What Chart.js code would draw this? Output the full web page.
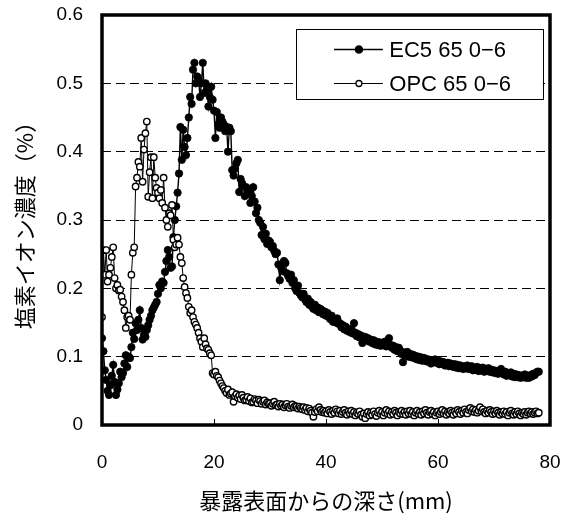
<!DOCTYPE html>
<html>
<head>
<meta charset="utf-8">
<script src="https://cdn.jsdelivr.net/npm/chart.js@4/dist/chart.umd.min.js"></script>
<style>
html,body{margin:0;padding:0;background:#fff;}
#wrap{width:571px;height:514px;position:relative;}
</style>
</head>
<body>
<div id="wrap"><canvas id="c" width="571" height="514"></canvas></div>
<script>
// ---- data (depth step 0.25 mm, 0 .. 78 mm) ----
const seriesNames = ['EC5 65 0\u22126', 'OPC 65 0\u22126'];
const xTitle = '暴露表面からの深さ(mm)';
const yTitle = '塩素イオン濃度（%）';
const xTickLabels = ['0', '20', '40', '60', '80'];
const yTickLabels = ['0', '0.1', '0.2', '0.3', '0.4', '0.5', '0.6'];
const depthStep = 0.25;

const ec5 = [
  0.127,0.108,0.080,0.066,0.050,0.044,0.058,0.072,
  0.088,0.063,0.044,0.052,0.061,0.078,0.070,0.076,
  0.090,0.102,0.085,0.100,0.098,0.114,0.135,0.126,
  0.149,0.139,0.154,0.168,0.142,0.125,0.132,0.129,
  0.139,0.146,0.154,0.160,0.168,0.172,0.176,0.180,
  0.192,0.205,0.200,0.210,0.208,0.224,0.240,0.256,
  0.246,0.230,0.232,0.275,0.300,0.320,0.340,0.368,
  0.436,0.388,0.432,0.407,0.395,0.420,0.450,0.480,
  0.470,0.520,0.530,0.500,0.510,0.505,0.480,0.500,
  0.530,0.486,0.500,0.490,0.466,0.480,0.495,0.476,
  0.460,0.420,0.458,0.440,0.435,0.450,0.444,0.440,
  0.430,0.436,0.400,0.435,0.430,0.373,0.365,0.375,
  0.383,0.388,0.341,0.360,0.354,0.350,0.335,0.348,
  0.344,0.340,0.325,0.335,0.348,0.327,0.310,0.318,
  0.300,0.296,0.278,0.290,0.272,0.280,0.265,0.270,
  0.268,0.260,0.262,0.255,0.250,0.252,0.235,0.212,
  0.230,0.225,0.240,0.237,0.222,0.218,0.214,0.220,
  0.208,0.212,0.200,0.196,0.204,0.193,0.190,0.187,
  0.192,0.184,0.180,0.185,0.176,0.180,0.173,0.170,
  0.176,0.168,0.172,0.165,0.170,0.168,0.162,0.166,
  0.160,0.164,0.158,0.155,0.160,0.151,0.154,0.150,
  0.156,0.148,0.149,0.143,0.146,0.140,0.144,0.138,
  0.141,0.136,0.139,0.134,0.149,0.135,0.130,0.133,
  0.128,0.131,0.120,0.126,0.129,0.124,0.127,0.122,
  0.125,0.120,0.124,0.118,0.122,0.117,0.121,0.116,
  0.120,0.118,0.122,0.115,0.119,0.127,0.117,0.113,
  0.116,0.110,0.114,0.108,0.113,0.109,0.104,0.092,
  0.106,0.102,0.107,0.100,0.104,0.099,0.103,0.098,
  0.101,0.096,0.100,0.095,0.099,0.094,0.098,0.097,
  0.093,0.096,0.095,0.090,0.094,0.092,0.096,0.091,
  0.094,0.089,0.093,0.090,0.092,0.087,0.088,0.091,
  0.086,0.090,0.087,0.085,0.089,0.084,0.088,0.083,
  0.087,0.085,0.082,0.086,0.083,0.087,0.082,0.083,
  0.086,0.080,0.084,0.081,0.085,0.079,0.083,0.080,
  0.084,0.078,0.082,0.079,0.083,0.078,0.081,0.077,
  0.080,0.076,0.079,0.075,0.078,0.082,0.076,0.074,
  0.078,0.072,0.076,0.073,0.077,0.071,0.075,0.070,
  0.074,0.070,0.073,0.069,0.072,0.070,0.074,0.069,
  0.072,0.069,0.073,0.071,0.075,0.073,0.076,0.078,
  0.078
];

const opc = [
  0.158,0.256,0.220,0.256,0.210,0.220,0.230,0.246,
  0.260,0.215,0.200,0.205,0.197,0.198,0.188,0.180,
  0.168,0.142,0.158,0.160,0.154,0.220,0.252,0.260,
  0.349,0.362,0.385,0.378,0.420,0.356,0.403,0.427,
  0.444,0.334,0.370,0.392,0.332,0.392,0.362,0.347,
  0.340,0.332,0.344,0.325,0.362,0.318,0.300,0.290,
  0.310,0.307,0.322,0.271,0.260,0.264,0.274,0.264,
  0.246,0.237,0.215,0.202,0.193,0.186,0.173,0.164,
  0.168,0.158,0.151,0.147,0.142,0.135,0.127,0.122,
  0.114,0.127,0.118,0.112,0.110,0.105,0.102,0.076,
  0.074,0.078,0.072,0.070,0.065,0.061,0.057,0.054,
  0.050,0.047,0.052,0.044,0.046,0.048,0.034,0.042,
  0.045,0.040,0.043,0.038,0.044,0.040,0.036,0.037,
  0.041,0.035,0.039,0.033,0.034,0.038,0.036,0.032,
  0.037,0.035,0.031,0.034,0.036,0.030,0.033,0.031,
  0.032,0.028,0.031,0.034,0.029,0.030,0.027,0.031,
  0.028,0.030,0.026,0.029,0.031,0.027,0.025,0.028,
  0.030,0.026,0.028,0.027,0.024,0.027,0.025,0.023,
  0.026,0.022,0.025,0.020,0.024,0.021,0.018,0.012,
  0.019,0.023,0.020,0.026,0.022,0.019,0.021,0.018,
  0.020,0.017,0.022,0.019,0.016,0.021,0.018,0.023,
  0.020,0.017,0.021,0.016,0.019,0.022,0.018,0.015,
  0.020,0.017,0.021,0.016,0.019,0.014,0.018,0.016,
  0.020,0.015,0.012,0.017,0.010,0.016,0.019,0.014,
  0.018,0.015,0.020,0.016,0.013,0.018,0.021,0.016,
  0.019,0.014,0.018,0.022,0.017,0.020,0.015,0.019,
  0.016,0.021,0.018,0.014,0.019,0.017,0.021,0.016,
  0.019,0.015,0.020,0.017,0.021,0.016,0.019,0.014,
  0.018,0.021,0.016,0.019,0.015,0.020,0.017,0.022,
  0.018,0.015,0.019,0.021,0.016,0.019,0.014,0.018,
  0.020,0.016,0.019,0.022,0.017,0.020,0.015,0.019,
  0.017,0.021,0.018,0.015,0.020,0.017,0.022,0.019,
  0.016,0.021,0.018,0.023,0.019,0.017,0.022,0.025,
  0.020,0.023,0.019,0.022,0.018,0.021,0.026,0.020,
  0.023,0.019,0.017,0.021,0.018,0.022,0.019,0.016,
  0.020,0.017,0.021,0.018,0.015,0.019,0.017,0.020,
  0.016,0.019,0.014,0.018,0.021,0.017,0.015,0.019,
  0.016,0.020,0.017,0.014,0.018,0.016,0.019,0.015,
  0.018,0.020,0.017,0.019,0.016,0.018,0.020,0.017,
  0.018
];

const depth = ec5.map((_, i) => i * depthStep);

// ---- styling ----
const numFont = {family: '"Liberation Sans", Arial, sans-serif', size: 19};
const legendFont = '22px "Liberation Sans", Arial, sans-serif';
const cjkFont = {family: '"Noto Sans CJK JP", sans-serif', size: 22};

const framePlugin = {
  id: 'frameAndLegend',
  afterDatasetsDraw(chart) {
    const {ctx, chartArea: a} = chart;
    const w = a.right - a.left, h = a.bottom - a.top;
    // legend box
    const bx = a.left + w * 0.433, by = a.top + h * 0.034;
    const bw = a.right - w * 0.016 - bx, bh = h * 0.171;
    ctx.save();
    ctx.fillStyle = '#fff';
    ctx.fillRect(bx, by, bw, bh);
    ctx.strokeStyle = '#000';
    ctx.lineWidth = 1;
    ctx.strokeRect(Math.round(bx) + 0.5, Math.round(by) + 0.5, Math.round(bw), Math.round(bh));
    const rows = [by + bh * 0.29, by + bh * 0.775];
    chart.data.datasets.forEach((ds, i) => {
      const y = Math.round(rows[i]) + 0.5;
      ctx.strokeStyle = '#000';
      ctx.lineWidth = i === 0 ? 1.6 : 1.1;
      ctx.beginPath();
      ctx.moveTo(bx + bw * 0.154, y);
      ctx.lineTo(bx + bw * 0.352, y);
      ctx.stroke();
      ctx.beginPath();
      ctx.arc(bx + bw * 0.255, y, i === 0 ? 3.6 : 3.0, 0, Math.PI * 2);
      ctx.fillStyle = ds.pointBackgroundColor;
      ctx.fill();
      ctx.lineWidth = 1.3;
      ctx.stroke();
      ctx.fillStyle = '#000';
      ctx.font = legendFont;
      ctx.textAlign = 'left';
      ctx.textBaseline = 'middle';
      ctx.fillText(ds.label, bx + bw * 0.378, y + 1);
    });
    // thick plot frame
    ctx.strokeStyle = '#000';
    ctx.lineWidth = 3.5;
    ctx.strokeRect(a.left, a.top, w, h);
    ctx.restore();
  }
};

new Chart(document.getElementById('c'), {
  type: 'line',
  data: {
    datasets: [
      {
        label: seriesNames[0],
        data: ec5.map((v, i) => ({x: depth[i], y: v})),
        borderColor: '#000',
        borderWidth: 1.4,
        pointRadius: 3.7,
        pointBackgroundColor: '#000',
        pointBorderColor: '#000',
        pointBorderWidth: 0.8,
        tension: 0,
        order: 2
      },
      {
        label: seriesNames[1],
        data: opc.map((v, i) => ({x: depth[i], y: v})),
        borderColor: '#000',
        borderWidth: 1,
        pointRadius: 3.2,
        pointBackgroundColor: '#fff',
        pointBorderColor: '#000',
        pointBorderWidth: 1.4,
        tension: 0,
        order: 1
      }
    ]
  },
  options: {
    responsive: false,
    animation: false,
    events: [],
    layout: {padding: {left: 0, right: 21, top: 15, bottom: 0}},
    scales: {
      x: {
        type: 'linear',
        min: 0, max: 80,
        afterBuildTicks: s => { s.ticks = xTickLabels.map(t => ({value: Number(t)})); },
        ticks: {
          font: numFont, color: '#000', padding: 32, maxRotation: 0, autoSkip: false,
          callback: (v, i) => xTickLabels[i]
        },
        grid: {drawOnChartArea: false, drawTicks: true, tickLength: -6, tickColor: '#000', tickWidth: 1},
        border: {display: false},
        title: {display: true, text: xTitle, font: cjkFont, color: '#000', padding: {top: 0, bottom: 0}},
        afterFit: s => { s.height = 89; s.paddingLeft = 0; s.paddingRight = 0; }
      },
      y: {
        min: 0, max: 0.6,
        afterBuildTicks: s => { s.ticks = yTickLabels.map(t => ({value: Number(t)})); },
        ticks: {
          font: numFont, color: '#000', padding: 19, autoSkip: false,
          callback: (v, i) => yTickLabels[i]
        },
        grid: {drawTicks: false, color: '#000', lineWidth: 1},
        border: {display: false, dash: [9, 5]},
        title: {display: true, text: yTitle, font: cjkFont, color: '#000', padding: {top: 11, bottom: 0}},
        afterFit: s => { s.width = 102; s.paddingTop = 0; s.paddingBottom = 0; }
      }
    },
    plugins: {legend: {display: false}, tooltip: {enabled: false}}
  },
  plugins: [framePlugin]
});
</script>
</body>
</html>
